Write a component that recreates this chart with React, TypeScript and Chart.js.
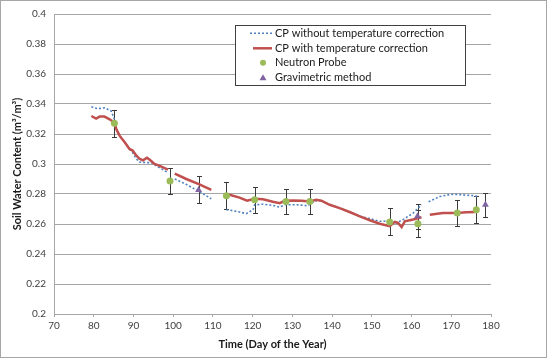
import React, { useEffect, useRef } from "react";
import { Chart, registerables } from "chart.js";
Chart.register(...registerables);

// CP without temperature correction (null = gap)
const cpNoTcDays = [79.4, 81.0, 82.7, 84.4, 85.2, 85.8, 86.5, 87.8, 89.0, 89.8, 90.7, 91.5, 93.2, 94.5, 96.6, 98.4,
  99.5,
  100.4, 103.3, 106.6, 109.6,
  111.5,
  113.4, 115.0, 116.7, 118.4, 120.1, 120.5, 122.6, 125.1, 126.8, 128.1, 131.0, 133.9, 134.8, 136.0, 137.3, 139.4, 141.9, 144.4, 147.0, 149.5, 152.0, 154.5, 156.2, 157.9, 160.4, 162.5,
  163.4,
  164.3, 167.1, 169.2, 170.5, 173.0, 175.5, 176.8];
const cpNoTcValues = [0.3382, 0.3368, 0.3375, 0.3353, 0.3298, 0.3232, 0.3189, 0.3145, 0.310, 0.3075, 0.3035, 0.3013, 0.3009, 0.3009, 0.2974, 0.2947,
  null,
  0.290, 0.2864, 0.2816, 0.2768,
  null,
  0.2695, 0.2689, 0.268, 0.2669, 0.2695, 0.2728, 0.2732, 0.2724, 0.2713, 0.2728, 0.2728, 0.2722, 0.2739, 0.2755, 0.2755, 0.2728, 0.2706, 0.268, 0.2651, 0.2636, 0.2618, 0.2618, 0.2607, 0.263, 0.2673, 0.2728,
  null,
  0.2748, 0.2783, 0.2794, 0.2798, 0.2794, 0.2789, 0.2783];

// CP with temperature correction (null = gap)
const cpTcDays = [79.4, 80.6, 81.5, 82.7, 84.0, 85.2, 85.7, 86.5, 87.8, 89.0, 89.8, 90.7, 91.5, 92.4, 93.4, 94.1, 95.3, 96.6, 98.7,
  99.5,
  100.4, 103.3, 106.6, 109.6,
  111.5,
  113.4, 114.2, 116.7, 118.6, 120.5, 122.6, 125.1, 126.8, 128.1, 130.2, 132.3, 134.4, 136.0, 137.3, 139.4, 141.9, 144.4, 147.0, 149.5, 152.0, 154.5, 155.8, 156.6, 157.5, 158.3, 160.4, 162.5,
  163.5,
  164.6, 167.9, 171.3, 173.8, 176.0];
const cpTcValues = [0.332, 0.3303, 0.3316, 0.3316, 0.3298, 0.3276, 0.3232, 0.3189, 0.3145, 0.310, 0.309, 0.3057, 0.3035, 0.3024, 0.3042, 0.3028, 0.300, 0.2987, 0.2962,
  null,
  0.2936, 0.290, 0.2864, 0.2827,
  null,
  0.2798, 0.2795, 0.2776, 0.2755, 0.2768, 0.2765, 0.2748, 0.2739, 0.2755, 0.2757, 0.2755, 0.275, 0.2761, 0.2755, 0.2728, 0.2706, 0.268, 0.2651, 0.2625, 0.2602, 0.2586, 0.2614, 0.2607, 0.2579, 0.2618, 0.263, 0.2645,
  null,
  0.2662, 0.2673, 0.2673, 0.2678, 0.268];

// Neutron probe
const npDays = [85.2, 99.2, 113.4, 120.5, 128.4, 134.4, 154.5, 161.6, 171.5, 176.3];
const npValues = [0.3272, 0.2887, 0.2788, 0.2761, 0.275, 0.275, 0.2614, 0.2601, 0.2673, 0.2695];
const npErrors = [0.009, 0.0088, 0.009, 0.0088, 0.0085, 0.0085, 0.009, 0.009, 0.0086, 0.009];

// Gravimetric method
const gravDays = [106.4, 161.5, 178.6];
const gravValues = [0.2827, 0.2651, 0.2728];
const gravErrors = [0.009, 0.0085, 0.008];

const seriesLabels = [
  "CP without temperature correction",
  "CP with temperature correction",
  "Neutron Probe",
  "Gravimetric method",
];
const xTitle = "Time (Day of the Year)";
const yTitle = "Soil Water Content (m\u00b3/m\u00b3)";

const BLUE = "#4f81bd";
const RED = "#c0504d";
const GREEN = "#9bbb59";
const PURPLE = "#8064a2";
const FONT = "Lato, 'Open Sans', sans-serif";

const toPoints = (xs: number[], ys: (number | null)[]) => xs.map((x, i) => ({ x, y: ys[i] }));

const framePlugin = {
  id: "frame",
  beforeDraw(chart: any) {
    const { ctx, width, height } = chart;
    ctx.save();
    ctx.fillStyle = "#ffffff";
    ctx.fillRect(0, 0, width, height);
    ctx.restore();
  },
  afterDraw(chart: any) {
    const { ctx } = chart;
    ctx.save();
    ctx.strokeStyle = "#a6a6a6";
    ctx.lineWidth = 1;
    ctx.strokeRect(0.5, 0.5, 546, 357);
    ctx.restore();
  },
};

const errorBarPlugin = {
  id: "errorBars",
  beforeDatasetsDraw(chart: any) {
    const { ctx } = chart;
    const xs = chart.scales.x;
    const ys = chart.scales.y;
    ctx.save();
    ctx.strokeStyle = "#3a3a3a";
    ctx.lineWidth = 1;
    const draw = (days: number[], vals: number[], errs: number[]) => {
      days.forEach((d, i) => {
        const px = Math.round(xs.getPixelForValue(d)) + 0.5;
        const top = Math.round(ys.getPixelForValue(vals[i] + errs[i])) + 0.5;
        const bot = Math.round(ys.getPixelForValue(vals[i] - errs[i])) + 0.5;
        ctx.beginPath();
        ctx.moveTo(px, top);
        ctx.lineTo(px, bot);
        ctx.moveTo(px - 2.5, top);
        ctx.lineTo(px + 2.5, top);
        ctx.moveTo(px - 2.5, bot);
        ctx.lineTo(px + 2.5, bot);
        ctx.stroke();
      });
    };
    draw(npDays, npValues, npErrors);
    draw(gravDays, gravValues, gravErrors);
    ctx.restore();
  },
};

const legendPlugin = {
  id: "boxLegend",
  afterDraw(chart: any) {
    const { ctx } = chart;
    const bx = 235.5, by = 25.5, bw = 230, bh = 60;
    ctx.save();
    ctx.fillStyle = "#ffffff";
    ctx.fillRect(bx, by, bw, bh);
    ctx.strokeStyle = "#404040";
    ctx.lineWidth = 1;
    ctx.strokeRect(bx, by, bw, bh);
    const rows = [33.3, 48.3, 62.8, 77.8];
    const sx0 = 250, sx1 = 272, mx = 263;
    // row 1: dotted blue
    ctx.strokeStyle = BLUE;
    ctx.lineWidth = 1.5;
    ctx.setLineDash([2, 2]);
    ctx.beginPath();
    ctx.moveTo(sx0, rows[0]);
    ctx.lineTo(sx1, rows[0]);
    ctx.stroke();
    ctx.setLineDash([]);
    // row 2: red
    ctx.strokeStyle = RED;
    ctx.lineWidth = 2.5;
    ctx.beginPath();
    ctx.moveTo(sx0 + 3, rows[1]);
    ctx.lineTo(sx1, rows[1]);
    ctx.stroke();
    // row 3: green circle
    ctx.fillStyle = GREEN;
    ctx.beginPath();
    ctx.arc(mx, rows[2], 3, 0, Math.PI * 2);
    ctx.fill();
    // row 4: triangle
    ctx.fillStyle = PURPLE;
    ctx.beginPath();
    ctx.moveTo(mx, rows[3] - 3.5);
    ctx.lineTo(mx + 3.5, rows[3] + 2.5);
    ctx.lineTo(mx - 3.5, rows[3] + 2.5);
    ctx.closePath();
    ctx.fill();
    ctx.fillStyle = "#1a1a1a";
    ctx.font = `11px ${FONT}`;
    ctx.textBaseline = "middle";
    ctx.textAlign = "left";
    seriesLabels.forEach((t, i) => ctx.fillText(t, 275, rows[i]));
    ctx.restore();
  },
};

export default function App() {
  const ref = useRef<HTMLCanvasElement | null>(null);
  useEffect(() => {
    if (!ref.current) return;
    const chart = new Chart(ref.current, {
      type: "line",
      data: {
        datasets: [
          {
            label: seriesLabels[0],
            data: toPoints(cpNoTcDays, cpNoTcValues),
            borderColor: BLUE,
            borderWidth: 1.6,
            borderDash: [2, 2],
            pointRadius: 0,
            tension: 0,
            spanGaps: false,
            order: 4,
          } as any,
          {
            label: seriesLabels[1],
            data: toPoints(cpTcDays, cpTcValues),
            borderColor: RED,
            borderWidth: 2.5,
            pointRadius: 0,
            tension: 0,
            spanGaps: false,
            order: 3,
          } as any,
          {
            label: seriesLabels[2],
            data: toPoints(npDays, npValues),
            showLine: false,
            pointStyle: "circle",
            pointRadius: 3.5,
            backgroundColor: GREEN,
            borderColor: GREEN,
            borderWidth: 0,
            order: 2,
          } as any,
          {
            label: seriesLabels[3],
            data: toPoints(gravDays, gravValues),
            showLine: false,
            pointStyle: "triangle",
            pointRadius: 4,
            backgroundColor: PURPLE,
            borderColor: PURPLE,
            borderWidth: 0,
            order: 1,
          } as any,
        ],
      },
      options: {
        responsive: false,
        animation: false,
        devicePixelRatio: 1,
        layout: { padding: { left: 0, top: 10, right: 59, bottom: 0 } },
        plugins: { legend: { display: false }, tooltip: { enabled: false } },
        scales: {
          x: {
            type: "linear",
            min: 70,
            max: 180,
            ticks: { stepSize: 10, padding: 3, color: "#404040", font: { family: FONT, size: 10 } },
            grid: { drawOnChartArea: false, drawTicks: true, tickLength: 3, color: "#a6a6a6" },
            border: { color: "#a6a6a6" },
            title: {
              display: true,
              text: xTitle,
              color: "#1a1a1a",
              font: { family: FONT, size: 11, weight: "bold" },
              padding: { top: 0, bottom: 8 },
            },
            afterFit: (s: any) => { s.height = 45; },
          },
          y: {
            min: 0.2,
            max: 0.4,
            ticks: {
              stepSize: 0.02,
              padding: 8,
              color: "#404040",
              font: { family: FONT, size: 10 },
              callback: (v: any) => String(parseFloat(Number(v).toFixed(2))),
            },
            grid: { drawTicks: false, color: "#a6a6a6" },
            border: { color: "#a6a6a6" },
            title: {
              display: true,
              text: yTitle,
              color: "#1a1a1a",
              font: { family: FONT, size: 11, weight: "bold" },
              padding: { top: 11, bottom: 0 },
            },
            afterFit: (s: any) => { s.width = 54; },
          },
        },
      },
      plugins: [framePlugin, errorBarPlugin, legendPlugin],
    } as any);
    return () => chart.destroy();
  }, []);
  return (
    <div style={{ position: "fixed", left: 0, top: 0, width: 550, height: 359 }}>
      <canvas ref={ref} width={550} height={359} style={{ width: 550, height: 359, display: "block" }} />
    </div>
  );
}
